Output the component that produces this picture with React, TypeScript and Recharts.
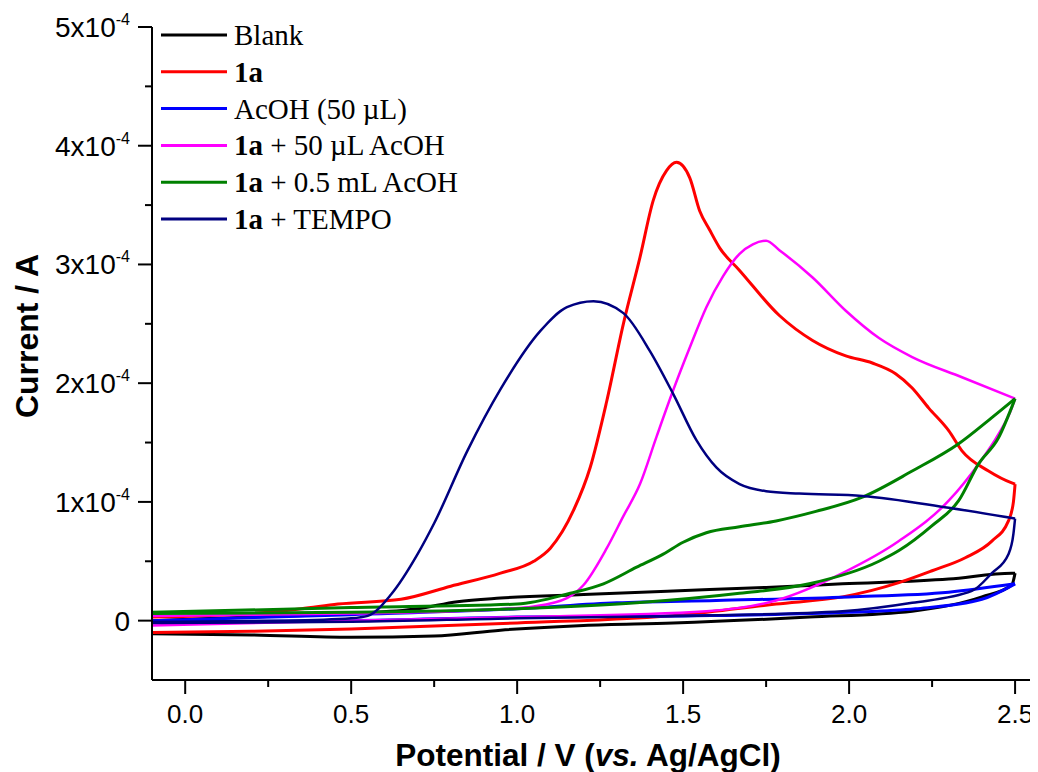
import { LineChart, Line, XAxis, YAxis, Label } from 'recharts';

// current values are in units of 1e-4 A, potential in V
// each scan is split into the forward (upper) and reverse (lower) branch, both listed by rising potential
const blankFwd = [[-0.1, 0.0], [0.2, 0.03], [0.5, 0.06], [0.7, 0.1], [0.82, 0.16], [0.95, 0.19], [1.2, 0.22], [1.47, 0.25], [1.75, 0.28], [1.98, 0.31], [2.3, 0.35], [2.49, 0.4], [2.5, 0.4]];
const blankRev = [[-0.1, -0.11], [0.2, -0.12], [0.5, -0.14], [0.75, -0.13], [0.95, -0.08], [1.2, -0.04], [1.47, -0.02], [1.88, 0.03], [2.19, 0.08], [2.4, 0.2], [2.49, 0.3], [2.5, 0.4]];

const redFwd = [[-0.1, 0.03], [0.2, 0.06], [0.35, 0.1], [0.46, 0.14], [0.65, 0.18], [0.8, 0.29], [0.95, 0.4], [1.05, 0.5], [1.1, 0.61], [1.17, 0.93], [1.22, 1.29], [1.27, 1.85], [1.32, 2.5], [1.37, 3.06], [1.41, 3.54], [1.45, 3.79], [1.48, 3.86], [1.52, 3.73], [1.55, 3.45], [1.58, 3.29], [1.61, 3.14], [1.67, 2.95], [1.79, 2.57], [1.89, 2.36], [1.99, 2.23], [2.07, 2.17], [2.14, 2.08], [2.19, 1.96], [2.24, 1.79], [2.3, 1.6], [2.34, 1.43], [2.42, 1.26], [2.49, 1.16], [2.5, 1.15]];
const redRev = [[-0.1, -0.1], [0.2, -0.09], [0.5, -0.07], [1.0, -0.02], [1.5, 0.05], [1.78, 0.14], [1.98, 0.2], [2.15, 0.32], [2.25, 0.42], [2.35, 0.53], [2.43, 0.67], [2.48, 0.84], [2.495, 1.0], [2.5, 1.15]];

const blueFwd = [[-0.1, 0.0], [0.5, 0.05], [1.0, 0.1], [1.3, 0.15], [1.6, 0.17], [2.0, 0.2], [2.3, 0.24], [2.5, 0.31]];
const blueRev = [[-0.1, -0.01], [0.5, 0.0], [1.0, 0.03], [1.5, 0.04], [2.0, 0.07], [2.2, 0.1], [2.4, 0.18], [2.5, 0.31]];

const magentaFwd = [[-0.1, 0.04], [0.5, 0.06], [0.9, 0.09], [1.05, 0.12], [1.15, 0.19], [1.2, 0.3], [1.27, 0.61], [1.32, 0.88], [1.37, 1.15], [1.42, 1.55], [1.47, 1.94], [1.52, 2.3], [1.57, 2.64], [1.62, 2.9], [1.67, 3.09], [1.71, 3.17], [1.75, 3.2], [1.79, 3.12], [1.89, 2.89], [1.99, 2.61], [2.09, 2.38], [2.19, 2.22], [2.34, 2.05], [2.5, 1.87]];
const magentaRev = [[-0.1, -0.04], [0.5, 0.0], [1.0, 0.03], [1.57, 0.08], [1.78, 0.17], [1.98, 0.4], [2.15, 0.67], [2.3, 1.01], [2.39, 1.32], [2.45, 1.57], [2.49, 1.79], [2.5, 1.87]];

const greenFwd = [[-0.1, 0.07], [0.5, 0.11], [1.0, 0.14], [1.16, 0.23], [1.26, 0.31], [1.36, 0.45], [1.44, 0.56], [1.5, 0.66], [1.57, 0.74], [1.67, 0.79], [1.78, 0.84], [1.9, 0.92], [2.04, 1.04], [2.19, 1.26], [2.33, 1.49], [2.43, 1.71], [2.5, 1.87]];
const greenRev = [[-0.1, 0.06], [0.5, 0.07], [1.0, 0.1], [1.36, 0.15], [1.67, 0.23], [1.88, 0.31], [2.09, 0.5], [2.15, 0.59], [2.25, 0.8], [2.33, 1.01], [2.39, 1.32], [2.45, 1.54], [2.5, 1.87]];

const navyFwd = [[-0.1, -0.01], [0.3, 0.0], [0.5, 0.02], [0.55, 0.04], [0.62, 0.22], [0.7, 0.56], [0.75, 0.82], [0.85, 1.43], [0.95, 1.95], [1.07, 2.44], [1.15, 2.64], [1.23, 2.69], [1.32, 2.59], [1.4, 2.27], [1.47, 1.91], [1.54, 1.52], [1.6, 1.29], [1.67, 1.15], [1.75, 1.09], [1.85, 1.07], [2.04, 1.05], [2.3, 0.95], [2.5, 0.86]];
const navyRev = [[-0.1, -0.02], [0.5, -0.01], [1.0, 0.02], [1.5, 0.04], [1.98, 0.08], [2.19, 0.15], [2.37, 0.25], [2.43, 0.4], [2.48, 0.56], [2.495, 0.73], [2.5, 0.86]];

const xTicks = [0, 0.25, 0.5, 0.75, 1.0, 1.25, 1.5, 1.75, 2.0, 2.25, 2.5];
const yTicks = [0, 0.5, 1, 1.5, 2, 2.5, 3, 3.5, 4, 4.5, 5];

const SANS = '"Liberation Sans", Arial, sans-serif';
const SERIF = '"Liberation Serif", "Times New Roman", serif';

const toPoints = (rows: number[][]) => rows.map(([v, i]) => ({ v, i }));

const series = [
  { name: 'Blank', bold: '', color: '#000000', width: 3, fwd: blankFwd, rev: blankRev },
  { name: '', bold: '1a', color: '#ff0000', width: 3, fwd: redFwd, rev: redRev },
  { name: 'AcOH (50 µL)', bold: '', color: '#0000ff', width: 3, fwd: blueFwd, rev: blueRev },
  { name: ' + 50 µL AcOH', bold: '1a', color: '#ff00ff', width: 2.5, fwd: magentaFwd, rev: magentaRev },
  { name: ' + 0.5 mL AcOH', bold: '1a', color: '#008000', width: 3, fwd: greenFwd, rev: greenRev },
  { name: ' + TEMPO', bold: '1a', color: '#000080', width: 2.5, fwd: navyFwd, rev: navyRev },
];

const XTick = (props: any) => {
  const { x, y, payload } = props;
  const v = payload.value as number;
  const major = Math.abs(v * 2 - Math.round(v * 2)) < 1e-6;
  return (
    <g>
      <line x1={x} y1={y} x2={x} y2={y + (major ? 14 : 7)} stroke="#000" strokeWidth={2} />
      {major && (
        <text x={x} y={y + 43} textAnchor="middle" fontSize={26} fontFamily={SANS} fill="#000">
          {v.toFixed(1)}
        </text>
      )}
    </g>
  );
};

const YTick = (props: any) => {
  const { x, y, payload } = props;
  const v = payload.value as number;
  const major = Number.isInteger(v);
  return (
    <g>
      <line x1={x} y1={y} x2={x - (major ? 14 : 7)} y2={y} stroke="#000" strokeWidth={2} />
      {major && (
        <text x={x - 22} y={y + 10} textAnchor="end" fontSize={28} fontFamily={SANS} fill="#000">
          {v === 0 ? '0' : (
            <>
              <tspan>{`${v}x10`}</tspan>
              <tspan dy={-12} fontSize={16}>-4</tspan>
            </>
          )}
        </text>
      )}
    </g>
  );
};

export default function App() {
  return (
    <div style={{ position: 'relative', width: 1038, height: 772, marginLeft: -8, marginTop: -8, background: '#fff' }}>
      <LineChart width={1038} height={772} margin={{ top: 27, right: 3, bottom: 0, left: 0 }}>
        <XAxis
          dataKey="v"
          type="number"
          domain={[-0.1, 2.56]}
          ticks={xTicks}
          allowDataOverflow
          height={92}
          tickSize={0}
          tickMargin={0}
          tickLine={false}
          axisLine={{ stroke: '#000', strokeWidth: 2 }}
          tick={<XTick />}
          interval={0}
        >
          <Label
            content={() => (
              <text x={588} y={766} textAnchor="middle" fontSize={31.5} fontWeight="bold" fontFamily={SANS} fill="#000">
                Potential / V (<tspan fontStyle="italic">vs.</tspan> Ag/AgCl)
              </text>
            )}
          />
        </XAxis>
        <YAxis
          type="number"
          domain={[-0.5, 5]}
          ticks={yTicks}
          allowDataOverflow
          width={152}
          tickSize={0}
          tickMargin={0}
          tickLine={false}
          axisLine={{ stroke: '#000', strokeWidth: 2 }}
          tick={<YTick />}
          interval={0}
        >
          <Label
            content={() => (
              <text x={38} y={336} transform="rotate(-90 38 336)" textAnchor="middle" fontSize={32} fontWeight="bold" fontFamily={SANS} fill="#000">
                Current / A
              </text>
            )}
          />
        </YAxis>
        {series.flatMap((s, k) => [
          <Line key={`f${k}`} data={toPoints(s.fwd)} dataKey="i" type="monotone" stroke={s.color} strokeWidth={s.width} dot={false} activeDot={false} isAnimationActive={false} />,
          <Line key={`r${k}`} data={toPoints(s.rev)} dataKey="i" type="monotone" stroke={s.color} strokeWidth={s.width} dot={false} activeDot={false} isAnimationActive={false} />,
        ])}
      </LineChart>
      <svg width={520} height={240} style={{ position: 'absolute', left: 0, top: 0, pointerEvents: 'none' }}>
        {series.map((s, k) => {
          const ly = 35 + k * 36.8;
          return (
            <g key={k}>
              <line x1={161} y1={ly} x2={227} y2={ly} stroke={s.color} strokeWidth={3} />
              <text x={234} y={ly + 10} fontSize={29} fontFamily={SERIF} fill="#000">
                {s.bold && <tspan fontWeight="bold">{s.bold}</tspan>}
                {s.name && <tspan>{s.name}</tspan>}
              </text>
            </g>
          );
        })}
      </svg>
    </div>
  );
}
